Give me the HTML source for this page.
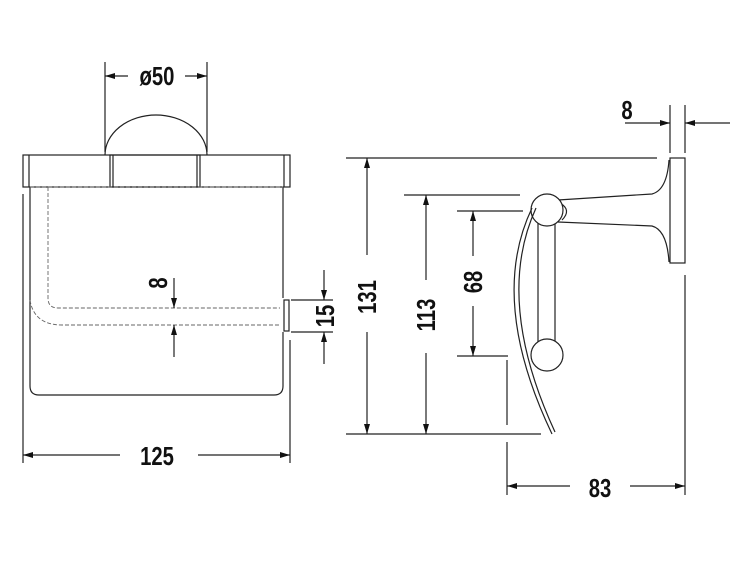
<!DOCTYPE html>
<html><head><style>body{margin:0;background:#fff}svg{display:block}text{font-family:"Liberation Sans",sans-serif;font-weight:bold;font-size:26px;fill:#111}</style></head><body>
<svg width="750" height="563" viewBox="0 0 750 563" xmlns="http://www.w3.org/2000/svg">
<defs><marker id="a" viewBox="0 0 10 6" refX="10" refY="3" markerWidth="12" markerHeight="6" orient="auto" markerUnits="userSpaceOnUse"><path d="M0,0L10,3L0,6z" fill="#111"/></marker></defs>
<g stroke="#222" stroke-width="1.2" fill="none">
<rect x="23" y="155" width="267" height="32"/>
<line x1="29" y1="155" x2="29" y2="187"/><line x1="284" y1="155" x2="284" y2="187"/>
<rect x="110" y="155" width="90" height="32"/><line x1="113" y1="155" x2="113" y2="187"/><line x1="197" y1="155" x2="197" y2="187"/>
<path d="M105,155 A51,40 0 0 1 207,155"/>
<line x1="105" y1="62" x2="105" y2="152"/><line x1="207" y1="62" x2="207" y2="152"/>
<line x1="128" y1="76" x2="105" y2="76" marker-end="url(#a)"/><line x1="185" y1="76" x2="207" y2="76" marker-end="url(#a)"/>
<line x1="23" y1="194" x2="23" y2="463"/><line x1="290" y1="340" x2="290" y2="463"/>
<line x1="120" y1="455" x2="23" y2="455" marker-end="url(#a)"/><line x1="198" y1="455" x2="290" y2="455" marker-end="url(#a)"/>
<path d="M30,187 V386 Q30,395 39,395 H274 Q283,395 283,386 V332"/>
<line x1="283" y1="187" x2="283" y2="298"/>
<g stroke-dasharray="4,2" stroke-width="0.9" stroke="#666">
<line x1="30" y1="187" x2="283" y2="187"/>
<path d="M48,187 V298 Q48,308 58,308 H280"/>
<path d="M30,300 Q34,325 62,325 H280"/>
</g>
<rect x="284" y="300" width="5" height="31"/>
<line x1="174" y1="278" x2="174" y2="308" marker-end="url(#a)"/><line x1="174" y1="357" x2="174" y2="325" marker-end="url(#a)"/>
<line x1="291" y1="300" x2="333" y2="300"/><line x1="291" y1="332" x2="333" y2="332"/>
<line x1="324" y1="270" x2="324" y2="300" marker-end="url(#a)"/><line x1="324" y1="364" x2="324" y2="332" marker-end="url(#a)"/>
<rect x="670" y="158" width="15" height="105"/>
<line x1="670" y1="105" x2="670" y2="153"/><line x1="685" y1="105" x2="685" y2="153"/>
<line x1="625" y1="123" x2="670" y2="123" marker-end="url(#a)"/><line x1="730" y1="123" x2="685" y2="123" marker-end="url(#a)"/>
<line x1="346" y1="158" x2="657" y2="158"/><line x1="346" y1="434" x2="541" y2="434"/>
<line x1="367" y1="255" x2="367" y2="158" marker-end="url(#a)"/><line x1="367" y1="332" x2="367" y2="434" marker-end="url(#a)"/>
<line x1="404" y1="195" x2="520" y2="195"/>
<line x1="426" y1="280" x2="426" y2="195" marker-end="url(#a)"/><line x1="426" y1="353" x2="426" y2="434" marker-end="url(#a)"/>
<line x1="457" y1="211" x2="523" y2="211"/><line x1="457" y1="356" x2="508" y2="356"/>
<line x1="473" y1="256" x2="473" y2="211" marker-end="url(#a)"/><line x1="473" y1="306" x2="473" y2="356" marker-end="url(#a)"/>
<path d="M558,200 L652,194 Q667,190 669,160"/>
<path d="M558,222 L652,226 Q667,230 669,262"/>
<path d="M560,203 Q572,210 562,220"/>
<line x1="538" y1="222" x2="538" y2="342"/><line x1="555" y1="222" x2="555" y2="342"/>
<circle cx="547" cy="210" r="16" fill="#fff"/>
<circle cx="547" cy="355" r="16" fill="#fff"/>
<path d="M532,208 Q488,300 552,434"/><path d="M536,208 Q494,300 555,432"/>
<line x1="507" y1="360" x2="507" y2="425"/><line x1="507" y1="442" x2="507" y2="495"/>
<line x1="685" y1="275" x2="685" y2="495"/>
<line x1="570" y1="486" x2="507" y2="486" marker-end="url(#a)"/><line x1="630" y1="486" x2="685" y2="486" marker-end="url(#a)"/>
</g>
<g transform="translate(157,85) scale(0.78,1)"><text text-anchor="middle">ø50</text></g>
<g transform="translate(157,465) scale(0.78,1)"><text text-anchor="middle">125</text></g>
<g transform="translate(167,283) rotate(-90) scale(0.78,1)"><text text-anchor="middle">8</text></g>
<g transform="translate(334,316) rotate(-90) scale(0.78,1)"><text text-anchor="middle">15</text></g>
<g transform="translate(627,119) scale(0.78,1)"><text text-anchor="middle">8</text></g>
<g transform="translate(376,297) rotate(-90) scale(0.78,1)"><text text-anchor="middle">131</text></g>
<g transform="translate(435,315) rotate(-90) scale(0.78,1)"><text text-anchor="middle">113</text></g>
<g transform="translate(482,282) rotate(-90) scale(0.78,1)"><text text-anchor="middle">68</text></g>
<g transform="translate(600,497) scale(0.78,1)"><text text-anchor="middle">83</text></g>
</svg>
</body></html>
